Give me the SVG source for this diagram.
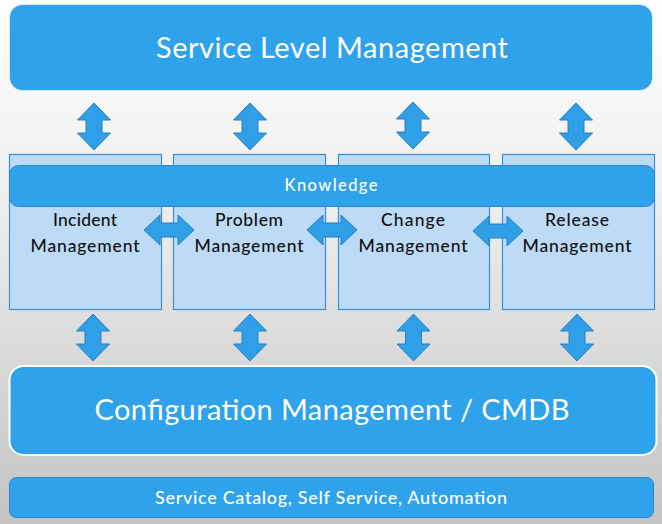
<svg xmlns="http://www.w3.org/2000/svg" width="662" height="524" viewBox="0 0 662 524">
<defs>
<linearGradient id="bg" x1="0" y1="0" x2="0" y2="1">
<stop offset="0" stop-color="#ffffff"/>
<stop offset="0.4" stop-color="#ededed"/>
<stop offset="1" stop-color="#c3c3c3"/>
</linearGradient>
<path id="varrow" d="M0,0 L16.5,17 L8,17 L8,30 L16.5,30 L0,47 L-16.5,30 L-8,30 L-8,17 L-16.5,17 Z"/>
<path id="harrow" d="M0,0 L16,-15 L16,-7 L34,-7 L34,-15 L50,0 L34,15 L34,7 L16,7 L16,15 Z"/>
</defs>
<style>
text{font-family:Lato,"Liberation Sans",sans-serif;text-anchor:middle}
.blue{fill:#2fa2ec}
.proc{fill:#bddbf7;stroke:#3b8fd6;stroke-width:1.2}
.arrow{fill:#2f9fe8;stroke:#2a7fc4;stroke-width:1}
.wt{fill:#ffffff}
.bt{fill:#111111;font-size:17.5px;font-weight:500}
</style>
<rect width="662" height="524" fill="url(#bg)"/>

<g id="slm">
<rect class="blue" x="9.5" y="4.5" width="643" height="86" rx="13" stroke="#ffffff" stroke-opacity="0.6" stroke-width="1"/>
<text class="wt" x="332" y="58" font-size="29" textLength="352">Service Level Management</text>
</g>

<g id="incident">
<rect class="proc" x="9.5" y="154.5" width="152" height="155"/>
<text class="bt" x="85" y="225.5" textLength="64">Incident</text>
<text class="bt" x="85" y="251.5" textLength="109">Management</text>
</g>
<g id="problem">
<rect class="proc" x="173.5" y="154.5" width="152" height="155"/>
<text class="bt" x="249" y="225.5" textLength="68">Problem</text>
<text class="bt" x="249" y="251.5" textLength="109">Management</text>
</g>
<g id="change">
<rect class="proc" x="338.5" y="154.5" width="151" height="155"/>
<text class="bt" x="413" y="225.5" textLength="64">Change</text>
<text class="bt" x="413" y="251.5" textLength="109">Management</text>
</g>
<g id="release">
<rect class="proc" x="502.5" y="154.5" width="152" height="155"/>
<text class="bt" x="577" y="225.5" textLength="64">Release</text>
<text class="bt" x="577" y="251.5" textLength="109">Management</text>
</g>

<g id="knowledge">
<rect class="blue" x="9.5" y="165.5" width="645" height="41" rx="9" stroke="#2a86d0" stroke-width="1"/>
<text class="wt" x="331" y="191" font-size="16.5" font-weight="500" textLength="93">Knowledge</text>
</g>

<g id="cmdb">
<rect class="blue" x="9.5" y="366" width="647" height="89" rx="14" stroke="#ffffff" stroke-width="2"/>
<text class="wt" x="332" y="420" font-size="29" textLength="475">Configuration Management / CMDB</text>
</g>

<g id="catalog">
<rect class="blue" x="9.5" y="477.5" width="644" height="40" rx="7" stroke="#2a86d0" stroke-width="1"/>
<text class="wt" x="331" y="504" font-size="18" font-weight="500" textLength="352">Service Catalog, Self Service, Automation</text>
</g>

<g id="connectors" class="arrow">
<use href="#varrow" x="94" y="103"/>
<use href="#varrow" x="250" y="103"/>
<use href="#varrow" x="413" y="102"/>
<use href="#varrow" x="576" y="103"/>
<use href="#varrow" x="93" y="314"/>
<use href="#varrow" x="250" y="314"/>
<use href="#varrow" x="413.5" y="314"/>
<use href="#varrow" x="577" y="314"/>
<use href="#harrow" x="144" y="230"/>
<use href="#harrow" x="307" y="230"/>
<use href="#harrow" x="473" y="231"/>
</g>
</svg>
